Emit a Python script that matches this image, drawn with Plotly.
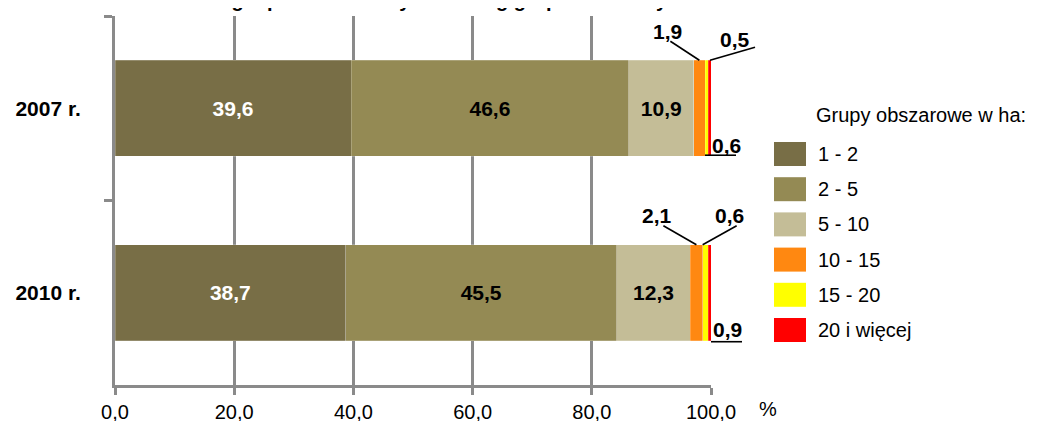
import plotly.graph_objects as go

# ---------------- data ----------------
years = ["2007 r.", "2010 r."]
groups = ["1 - 2", "2 - 5", "5 - 10", "10 - 15", "15 - 20", "20 i więcej"]
v_1_2 = [39.6, 38.7]
v_2_5 = [46.6, 45.5]
v_5_10 = [10.9, 12.3]
v_10_15 = [1.9, 2.1]
v_15_20 = [0.5, 0.9]
v_20_plus = [0.6, 0.6]
series = [v_1_2, v_2_5, v_5_10, v_10_15, v_15_20, v_20_plus]
x_ticks = [0, 20, 40, 60, 80, 100]
legend_title = "Grupy obszarowe w ha:"
chart_title = "Struktura gospodarstw rolnych według grup obszarowych"

# ---------------- style ----------------
colors = ["#786E46", "#948A54", "#C4BD97", "#FF8811", "#FFFF00", "#FF0000"]
inside_text_colors = ["white", "black", "black", None, None, None]
FONT = "Liberation Sans, Arial, sans-serif"
GRID = "#8A8A8A"
BAR_W = 0.52
X_RANGE = [0, 100]
Y_RANGE = [1.5, -0.5]
OFF = 8  # page body margin of the browser
W, H = 1040 - OFF, 421 - OFF
# plot area in page pixels: x 115..711, y 16..385
L, T = 115 - OFF, 16 - OFF
R, B = W - (711 - OFF), H - (385 - OFF)
PW, PH = W - L - R, H - T - B


def px_x(p):  # page pixel -> paper fraction
    return (p - OFF - L) / PW


def px_y(p):
    return (H - B - (p - OFF)) / PH


def data_to_paper_x(v):
    return (v - X_RANGE[0]) / (X_RANGE[1] - X_RANGE[0])


def data_to_paper_y(v):
    return (v - Y_RANGE[0]) / (Y_RANGE[1] - Y_RANGE[0])


fig = go.Figure()
for i, (name, vals) in enumerate(zip(groups, series)):
    tc = inside_text_colors[i]
    fig.add_trace(go.Bar(
        y=years, x=vals, name=name, orientation="h", width=BAR_W,
        marker=dict(color=colors[i], line=dict(color="rgba(255,255,255,0.35)", width=0.6)),
        texttemplate="%{x:.1f}" if tc else None,
        textposition="inside" if tc else "none",
        insidetextanchor="middle",
        textangle=0,
        constraintext="none",
        insidetextfont=dict(family=FONT, size=21, color=tc or "black", weight="bold"),
        showlegend=False, hoverinfo="skip",
    ))

# ---------------- small-value labels with leader lines ----------------
def cum_start(si, yi):
    return sum(series[k][yi] for k in range(si))


def anchor_x(si, yi, where):
    s = cum_start(si, yi)
    v = series[si][yi]
    return {"start": s, "mid": s + v / 2, "end": s + v}[where]


# (year idx, value series, anchor series, anchor where, edge, text shift, line offsets)
small_labels = [
    (0, 3, 3, "mid", "top", (-32, 29), ((0, 0), (-29, 19))),
    (0, 4, 4, "end", "top", (27, 21), ((2, 0), (47, 13))),
    (0, 5, 5, "end", "bottom", (15, 11), ((-6, 1), (25, 1))),
    (1, 3, 3, "mid", "top", (-39, 29), ((0, 0), (-33, 19))),
    (1, 5, 3, "end", "top", (27, 29), ((0, 0), (34, 19))),
    (1, 4, 5, "end", "bottom", (16, 11), ((0, -1), (31, -1))),
]
for yi, vs, as_, where, edge, (dx, dy), ((x0, y0), (x1, y1)) in small_labels:
    ax = data_to_paper_x(min(anchor_x(as_, yi, where), X_RANGE[1]))
    ay = data_to_paper_y(yi - BAR_W / 2 if edge == "top" else yi + BAR_W / 2)
    fig.add_annotation(
        x=ax, y=ay, xref="paper", yref="paper", showarrow=False,
        text=f"{series[vs][yi]:.1f}".replace(".", ","),
        xshift=dx, yshift=dy, xanchor="center", yanchor="middle",
        font=dict(family=FONT, size=21, color="black", weight="bold"),
    )
    fig.add_shape(
        type="line", xref="paper", yref="paper",
        xsizemode="pixel", ysizemode="pixel", xanchor=ax, yanchor=ay,
        x0=x0, x1=x1, y0=y0, y1=y1,
        line=dict(color="black", width=1.6),
    )

# ---------------- custom legend ----------------
fig.add_annotation(
    x=px_x(814), y=px_y(115), xref="paper", yref="paper", showarrow=False,
    text=legend_title, xanchor="left", yanchor="middle",
    font=dict(family=FONT, size=20, color="black"),
)
for i, name in enumerate(groups):
    top = 142 + i * 35.2
    fig.add_shape(
        type="rect", xref="paper", yref="paper",
        x0=px_x(774), x1=px_x(806), y0=px_y(top), y1=px_y(top + 24),
        fillcolor=colors[i], line=dict(width=0),
    )
    fig.add_annotation(
        x=px_x(816), y=px_y(top + 12), xref="paper", yref="paper", showarrow=False,
        text=name, xanchor="left", yanchor="middle",
        font=dict(family=FONT, size=20, color="black"),
    )

# "%" unit after the last tick
fig.add_annotation(
    x=px_x(768), y=px_y(409), xref="paper", yref="paper", showarrow=False,
    text="%", xanchor="center", yanchor="middle",
    font=dict(family=FONT, size=20, color="black"),
)

# title (cut off at the top of the picture)
fig.add_annotation(
    x=0.5, y=px_y(13), xref="paper", yref="paper", showarrow=False,
    text=chart_title, xanchor="center", yanchor="bottom",
    font=dict(family=FONT, size=20, color="black", weight="bold"),
)

fig.update_layout(
    width=W, height=H,
    margin=dict(l=L, r=R, t=T, b=B, autoexpand=False),
    barmode="stack",
    plot_bgcolor="white", paper_bgcolor="white",
    separators=",.",
    font=dict(family=FONT, size=20, color="black"),
)
fig.update_xaxes(
    range=X_RANGE, tickvals=x_ticks, tickformat=".1f",
    showgrid=True, gridcolor=GRID, gridwidth=3,
    showline=True, linecolor=GRID, linewidth=3,
    ticks="outside", ticklen=7, tickwidth=3, tickcolor=GRID,
    tickfont=dict(family=FONT, size=20, color="black"),
    zeroline=False, fixedrange=True, automargin=False,
)
fig.update_yaxes(
    type="category", categoryorder="array", categoryarray=years,
    range=Y_RANGE,
    showgrid=False, showline=True, linecolor=GRID, linewidth=3,
    ticks="outside", tickson="boundaries", ticklen=8, tickwidth=3, tickcolor=GRID,
    tickfont=dict(family=FONT, size=21, color="black", weight="bold"),
    ticklabelstandoff=27,
    zeroline=False, fixedrange=True, automargin=False,
)

fig.write_html("out.html")
